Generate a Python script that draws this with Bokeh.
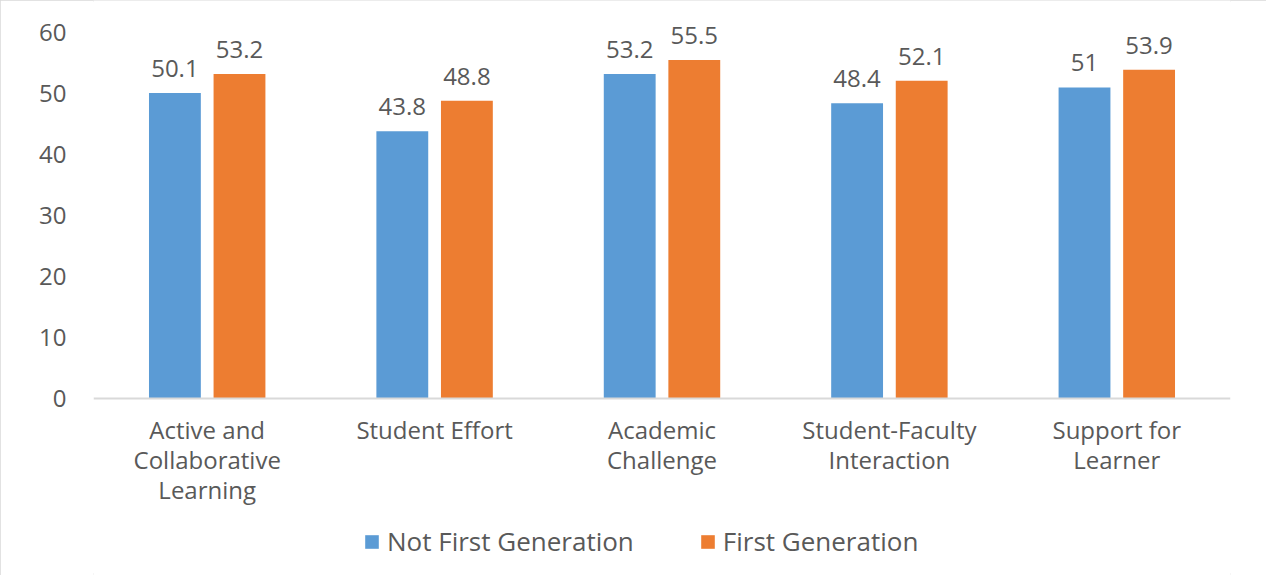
from bokeh.plotting import figure
from bokeh.models import ColumnDataSource, LabelSet, Legend, LegendItem, FixedTicker, Range1d
from bokeh.transform import dodge
from bokeh.core.properties import value
from bokeh.embed import file_html
from bokeh.resources import INLINE

categories = ["Active and\nCollaborative\nLearning", "Student Effort", "Academic\nChallenge",
              "Student-Faculty\nInteraction", "Support for\nLearner"]
not_first_gen = [50.1, 43.8, 53.2, 48.4, 51.0]
first_gen = [53.2, 48.8, 55.5, 52.1, 53.9]
series_names = ["Not First Generation", "First Generation"]
y_ticks = [0, 10, 20, 30, 40, 50, 60]

BLUE = "#5B9BD5"
ORANGE = "#ED7D31"
TEXT = "#595959"
FONT = "Open Sans"

src = ColumnDataSource(dict(
    cat=categories,
    a=not_first_gen,
    b=first_gen,
    a_lbl=[f"{v:g}" for v in not_first_gen],
    b_lbl=[f"{v:g}" for v in first_gen],
))

W = 1266
H = 575
ZERO_Y = 398
PX_PER_UNIT = 6.1
p = figure(x_range=categories, width=W, height=H, output_backend="svg",
           toolbar_location=None, min_border_left=93, min_border_right=W - 1230,
           min_border_top=0, min_border_bottom=0)
p.styles = {"outline": "2px solid #D9D9D9", "outline-offset": "-2px"}
p.y_range = Range1d(-(H - ZERO_Y) / PX_PER_UNIT, ZERO_Y / PX_PER_UNIT)
p.outline_line_color = None
p.xgrid.grid_line_color = None
p.ygrid.grid_line_color = None

off = 0.142
w = 0.228
r1 = p.vbar(x=dodge("cat", -off, range=p.x_range), top="a", width=w, source=src,
            fill_color=BLUE, line_color=None)
r2 = p.vbar(x=dodge("cat", off, range=p.x_range), top="b", width=w, source=src,
            fill_color=ORANGE, line_color=None)

for col, lbl, o in (("a", "a_lbl", -off), ("b", "b_lbl", off)):
    ls = LabelSet(x=dodge("cat", o, range=p.x_range), y=col, text=lbl, source=src,
                  text_align="center", text_baseline="alphabetic", y_offset=16,
                  text_font=value(FONT), text_font_size="24px", text_color=TEXT)
    p.add_layout(ls)

# axes
p.yaxis.ticker = FixedTicker(ticks=y_ticks)
p.yaxis.axis_line_color = None
p.yaxis.major_tick_line_color = None
p.yaxis.minor_tick_line_color = None
p.yaxis.major_label_standoff = 21
p.yaxis.major_label_text_font = FONT
p.yaxis.major_label_text_font_size = "24px"
p.yaxis.major_label_text_color = TEXT

p.xaxis.fixed_location = 0
p.xaxis.axis_line_color = "#D9D9D9"
p.xaxis.axis_line_width = 2
p.xaxis.major_tick_line_color = None
p.xaxis.minor_tick_line_color = None
p.xaxis.major_label_standoff = 8
p.xaxis.major_label_text_font = FONT
p.xaxis.major_label_text_font_size = "24px"
p.xaxis.major_label_text_color = TEXT
p.xaxis.major_label_text_line_height = 0.92

legend = Legend(items=[LegendItem(label=series_names[0], renderers=[r1]),
                       LegendItem(label=series_names[1], renderers=[r2])],
                orientation="horizontal", location=(270, 16),
                glyph_width=17, glyph_height=17, label_standoff=7, spacing=65,
                padding=0, margin=0, border_line_color=None, background_fill_alpha=0,
                label_text_font=FONT, label_text_font_size="26px", label_text_color=TEXT)
p.add_layout(legend, "center")

open("out.html", "w").write(file_html(p, INLINE))
